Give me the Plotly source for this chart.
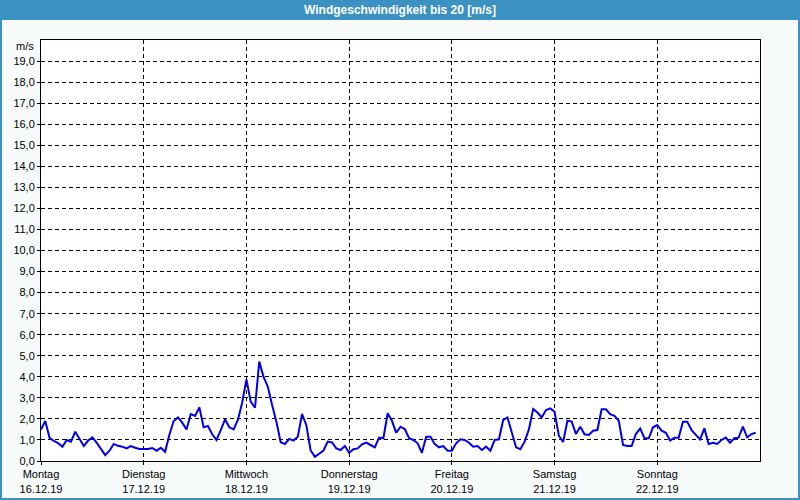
import plotly.graph_objects as go
import pandas as pd

# ---- data ----
start_time = "2019-12-16 00:00"
wind_speed = [
    1.5, 1.9, 1.1, 0.95, 0.85, 0.68, 1.0, 0.92, 1.39, 1.02,
    0.71, 0.97, 1.12, 0.87, 0.6, 0.28, 0.49, 0.81, 0.72, 0.68,
    0.6, 0.71, 0.63, 0.57, 0.57, 0.57, 0.62, 0.49, 0.63, 0.44,
    1.25, 1.9, 2.07, 1.82, 1.5, 2.23, 2.14, 2.55, 1.6, 1.66,
    1.27, 1.0, 1.47, 1.98, 1.6, 1.5, 1.95, 2.77, 3.88, 2.82,
    2.53, 4.72, 4.0, 3.53, 2.66, 1.87, 0.89, 0.81, 1.05, 0.97,
    1.15, 2.23, 1.7, 0.5, 0.2, 0.37, 0.5, 0.92, 0.88, 0.6,
    0.52, 0.71, 0.39, 0.56, 0.6, 0.79, 0.87, 0.76, 0.65, 1.11,
    1.08, 2.27, 1.91, 1.34, 1.63, 1.52, 1.08, 1.0, 0.84, 0.39,
    1.15, 1.15, 0.8, 0.65, 0.71, 0.49, 0.49, 0.84, 1.03, 1.0,
    0.87, 0.68, 0.71, 0.52, 0.68, 0.49, 1.0, 1.03, 1.95, 2.07,
    1.39, 0.65, 0.56, 0.92, 1.5, 2.47, 2.3, 2.07, 2.42, 2.5,
    2.34, 1.2, 0.9, 1.91, 1.87, 1.28, 1.63, 1.27, 1.24, 1.44,
    1.47, 2.46, 2.46, 2.23, 2.14, 1.91, 0.76, 0.71, 0.71, 1.28,
    1.55, 1.08, 1.08, 1.6, 1.71, 1.44, 1.34, 0.97, 1.11, 1.11,
    1.87, 1.87, 1.47, 1.24, 1.03, 1.55, 0.81, 0.87, 0.81, 1.0,
    1.11, 0.87, 1.08, 1.11, 1.63, 1.12, 1.28, 1.34,
]
day_ticks = ["2019-12-16", "2019-12-17", "2019-12-18", "2019-12-19",
             "2019-12-20", "2019-12-21", "2019-12-22"]
day_names = ["Montag", "Dienstag", "Mittwoch", "Donnerstag", "Freitag", "Samstag", "Sonntag"]
day_dates = ["16.12.19", "17.12.19", "18.12.19", "19.12.19", "20.12.19", "21.12.19", "22.12.19"]
x_range = ["2019-12-16 00:00", "2019-12-23 00:00"]
y_ticks = list(range(0, 20))
title_text = "Windgeschwindigkeit bis 20 [m/s]"
unit_text = "m/s"

times = pd.date_range(start_time, periods=len(wind_speed), freq="h")

# ---- layout geometry (px) ----
W, H = 800, 500
L, R, T, B = 41, 40, 40, 39
pw, ph = W - L - R, H - T - B
def px_x(p):
    return (p - L) / pw
def px_y(p):
    return (H - B - p) / ph

bar_color = "#3c91c3"
font_fam = "Liberation Sans, Arial, sans-serif"

fig = go.Figure()
fig.add_trace(go.Scatter(
    x=times, y=wind_speed, mode="lines",
    line=dict(color="#0000e8", width=2),
    hoverinfo="skip", showlegend=False,
))

fig.update_layout(
    width=W, height=H,
    margin=dict(l=L, r=R, t=T, b=B, autoexpand=False),
    paper_bgcolor="#f8fbfb",
    plot_bgcolor="#ffffff",
    separators=",.",
    font=dict(family=font_fam, size=11, color="#000000"),
    showlegend=False,
    xaxis=dict(
        type="date",
        range=x_range,
        tickvals=day_ticks,
        ticktext=[f"{n}<br>{d}" for n, d in zip(day_names, day_dates)],
        tickangle=0,
        automargin=False,
        showgrid=True, gridcolor="#000000", gridwidth=1, griddash="4px,3px",
        showline=True, linecolor="#000000", linewidth=1, mirror=True,
        ticks="outside", ticklen=3, tickcolor="#000000",
        zeroline=False,
        tickfont=dict(size=11),
        fixedrange=True,
    ),
    yaxis=dict(
        range=[0, 20],
        tickvals=y_ticks,
        tickformat=".1f",
        automargin=False,
        showgrid=True, gridcolor="#000000", gridwidth=1, griddash="4px,3px",
        showline=True, linecolor="#000000", linewidth=1, mirror=True,
        ticks="outside", ticklen=3, tickcolor="#000000",
        zeroline=False,
        tickfont=dict(size=11),
        fixedrange=True,
    ),
    shapes=[
        dict(type="rect", xref="paper", yref="paper",
             x0=px_x(0), x1=px_x(W), y0=px_y(20), y1=px_y(0),
             fillcolor=bar_color, line=dict(width=0), layer="above"),
        dict(type="rect", xref="paper", yref="paper",
             x0=px_x(1), x1=px_x(W - 1), y0=px_y(H - 1), y1=px_y(1),
             fillcolor="rgba(0,0,0,0)", line=dict(color=bar_color, width=2), layer="above"),
    ],
    annotations=[
        dict(text=f"<b>{title_text}</b>", xref="paper", yref="paper",
             x=px_x(W / 2), y=px_y(10), xanchor="center", yanchor="middle",
             showarrow=False, font=dict(family=font_fam, size=12, color="#ffffff")),
        dict(text=unit_text, xref="paper", yref="paper",
             x=px_x(36), y=px_y(46), xanchor="right", yanchor="middle",
             showarrow=False, font=dict(family=font_fam, size=11, color="#000000")),
    ],
)

fig.write_html(
    "out.html",
    config={"displayModeBar": False},
    post_script="document.body.style.margin='0';document.body.style.overflow='hidden';",
)
